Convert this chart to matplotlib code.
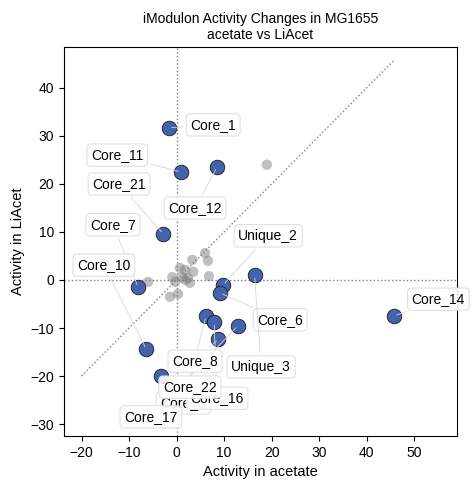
import numpy as np
import matplotlib
matplotlib.use("Agg")
import matplotlib.pyplot as plt

plt.rcParams['font.family'] = ['Liberation Sans', 'DejaVu Sans']

# significant iModulons (blue, labelled)
sig_names = ['Core_1', 'Core_11', 'Core_12', 'Core_21', 'Core_7', 'Unique_2', 'Core_6',
             'Unique_3', 'Core_5', 'Core_16', 'Core_17', 'Core_8', 'Core_10', 'Core_22', 'Core_14']
sig_x = [-1.6, 0.9, 8.5, -2.8, -8.1, 9.8, 9.2, 16.4, 6.2, 7.9, 12.9, 8.8, -6.4, -3.3, 45.8]
sig_y = [31.7, 22.5, 23.5, 9.6, -1.5, -1.0, -2.7, 1.0, -7.5, -8.8, -9.5, -12.3, -14.4, -20.0, -7.5]

# label positions (data coords)
lab_x = [7.7, -12.5, 3.9, -12.1, -13.4, 19.3, 21.8, 17.8, 1.4, 8.5, -5.4, 3.9, -15.3, 2.8, 55.1]
lab_y = [32.3, 26.0, 15.0, 20.0, 11.5, 9.2, -8.3, -18.1, -25.6, -24.6, -28.5, -16.9, 3.1, -22.3, -4.0]

# non-significant iModulons (grey)
ns_x = [6.0, 6.6, 3.3, 0.7, 1.8, 3.5, 6.8, -0.9, 1.2, 2.4, -0.3, 2.8, 1.8, -6.0, -1.4, 0.3, 19.0]
ns_y = [5.6, 4.0, 4.2, 2.5, 2.1, 1.7, 0.8, 0.6, 0.6, 0.4, -0.4, -0.6, 0.0, -0.4, -3.5, -2.9, 24.0]

fig = plt.figure(figsize=(4.74, 4.90), dpi=100)
ax = fig.add_axes([0.135, 0.110, 0.829, 0.794])

ax.axhline(0, color='grey', ls=':', lw=1, zorder=0)
ax.axvline(0, color='grey', ls=':', lw=1, zorder=0)
allv = sig_x + sig_y + ns_x + ns_y
lo, hi = min(allv), max(sig_x + ns_x)
ax.plot([lo, hi], [lo, hi], color='grey', ls=':', lw=1, zorder=0)

ax.scatter(ns_x, ns_y, s=55, color='grey', alpha=0.5, edgecolor='none', zorder=2)
ax.scatter(sig_x, sig_y, s=110, color='#4463ad', edgecolor='#1a1a1a', lw=0.6, zorder=3)

for name, px, py, tx, ty in zip(sig_names, sig_x, sig_y, lab_x, lab_y):
    ax.annotate(name, xy=(px, py), xytext=(tx, ty), ha='center', va='center', fontsize=10,
                bbox=dict(boxstyle='round,pad=0.3', fc='white', ec='#dddddd', lw=0.8, alpha=0.9),
                arrowprops=dict(arrowstyle='-', color='#d6d6d6', lw=0.6), zorder=4)

ax.set_xlim(-23.7, 59)
ax.set_ylim(-32.5, 48.5)
ax.set_xticks([-20, -10, 0, 10, 20, 30, 40, 50])
ax.set_yticks([-30, -20, -10, 0, 10, 20, 30, 40])
ax.tick_params(labelsize=10)
ax.set_xlabel('Activity in acetate', fontsize=10.5)
ax.set_ylabel('Activity in LiAcet', fontsize=10.5)
ax.set_title('iModulon Activity Changes in MG1655\nacetate vs LiAcet', fontsize=10)

fig.savefig('out.png', dpi=100)
